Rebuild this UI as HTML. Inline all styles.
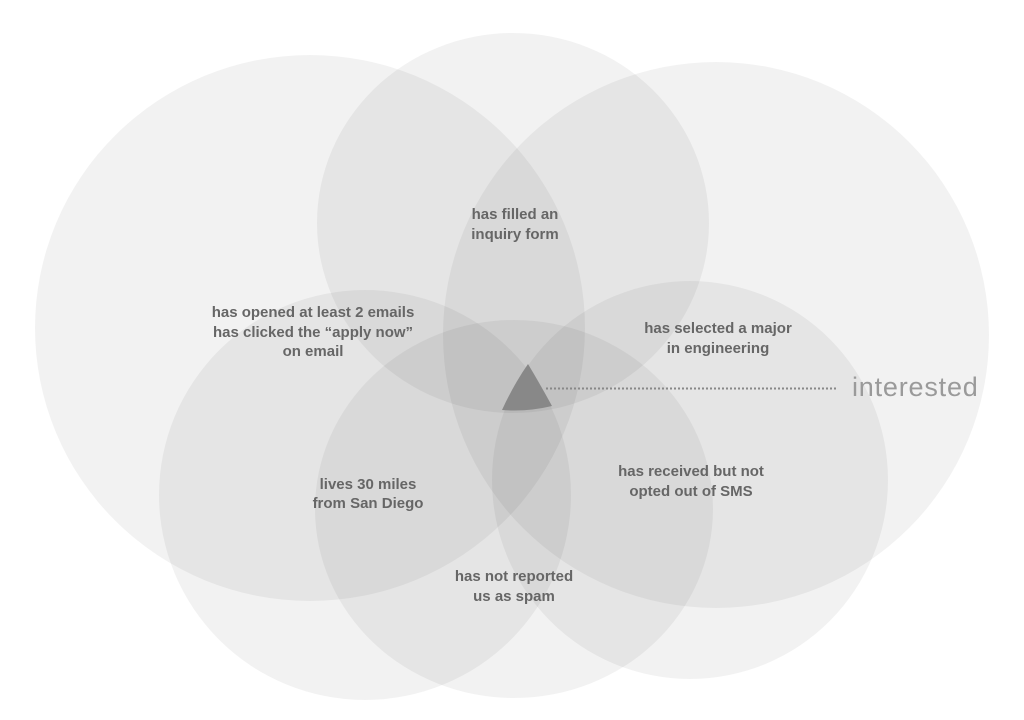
<!DOCTYPE html>
<html><head><style>body{margin:0;background:#fff}svg{display:block}</style></head><body>
<svg width="1024" height="720" viewBox="0 0 1024 720" xmlns="http://www.w3.org/2000/svg">
<g fill="#000" fill-opacity="0.052">
<ellipse cx="310" cy="328" rx="275" ry="273"/>
<ellipse cx="513" cy="223" rx="196" ry="190"/>
<ellipse cx="716" cy="335" rx="273" ry="273"/>
<ellipse cx="365" cy="495" rx="206" ry="205"/>
<ellipse cx="514" cy="509" rx="199" ry="189"/>
<ellipse cx="690" cy="480" rx="198" ry="199"/>
</g>
<path d="M528 364 Q540 384 552 406 Q527 412 502 410 Q514 384 528 364Z" fill="#888"/>
<line x1="546" y1="388.5" x2="838" y2="388.5" stroke="#888" stroke-width="2" stroke-dasharray="2,2"/>
<text x="852" y="396" font-family="Liberation Sans, sans-serif" font-size="27" letter-spacing="0.8" fill="#9a9a9a">interested</text>
<g font-family="Liberation Sans, sans-serif" font-size="15" font-weight="bold" fill="#666" text-anchor="middle">
<text x="515" y="219">has filled an</text><text x="515" y="239">inquiry form</text>
<text x="313" y="317">has opened at least 2 emails</text><text x="313" y="337">has clicked the “apply now”</text><text x="313" y="356">on email</text>
<text x="718" y="333">has selected a major</text><text x="718" y="353">in engineering</text>
<text x="368" y="489">lives 30 miles</text><text x="368" y="508">from San Diego</text>
<text x="691" y="476">has received but not</text><text x="691" y="496">opted out of SMS</text>
<text x="514" y="581">has not reported</text><text x="514" y="601">us as spam</text>
</g>
</svg>
</body></html>
